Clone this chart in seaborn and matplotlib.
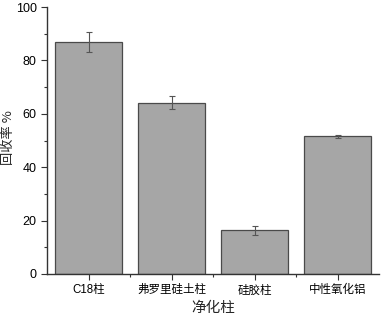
import matplotlib
matplotlib.use("Agg")
import matplotlib.pyplot as plt
import seaborn as sns
import pandas as pd
from matplotlib.ticker import MultipleLocator

categories = ["C18柱", "弗罗里硅土柱", "硅胶柱", "中性氧化铝"]
recovery = [86.9, 64.2, 16.3, 51.5]
errors = [3.8, 2.3, 1.8, 0.5]

sns.set_theme(style="white")
plt.rcParams['font.family'] = ['Liberation Sans', 'Noto Sans CJK SC', 'DejaVu Sans']

df = pd.DataFrame({"cat": categories, "val": recovery})
fig = plt.figure(figsize=(3.81, 3.16), dpi=100)
ax = fig.add_axes([47/381, 1-274/316, 332/381, 267/316])
sns.barplot(data=df, x="cat", y="val", color="#a6a6a6", edgecolor="#4a4a4a",
            linewidth=0.9, width=0.8, saturation=1, ax=ax, errorbar=None)
ax.errorbar(range(len(categories)), recovery, yerr=errors, fmt="none",
            ecolor="#555555", elinewidth=0.8, capsize=2.5, capthick=0.8)
ax.set_xlim(-0.5, 3.5)
ax.set_ylim(0, 100)
ax.yaxis.set_major_locator(MultipleLocator(20))
ax.yaxis.set_minor_locator(MultipleLocator(10))
ax.set_xticks(range(4))
ax.set_xticks([0.5, 1.5, 2.5], minor=True)
for s in ["top", "right"]:
    ax.spines[s].set_visible(False)
for s in ["left", "bottom"]:
    ax.spines[s].set_color("#333333")
    ax.spines[s].set_linewidth(1.0)
ax.tick_params(axis="both", which="major", direction="out", length=4, width=0.8,
               color="#333333", labelsize=9, labelcolor="black", left=True, bottom=True)
ax.tick_params(axis="both", which="minor", direction="out", length=2.5, width=0.8,
               color="#333333", left=True, bottom=True)
ax.set_xlabel("净化柱", fontsize=10.5, family=['Noto Sans CJK SC', 'DejaVu Sans'])
ax.set_ylabel("回收率 %", fontsize=9.5, family=['Noto Sans CJK SC', 'DejaVu Sans'])
ax.xaxis.set_label_coords(0.5, -0.128, transform=ax.transAxes)
ax.yaxis.set_label_coords(-0.117, 0.511, transform=ax.transAxes)
ax.xaxis.label.set_va("center")
ax.yaxis.label.set_va("center")
for lbl in ax.get_xticklabels():
    lbl.set_fontsize(8.3)
fig.savefig("out.png", dpi=100)
